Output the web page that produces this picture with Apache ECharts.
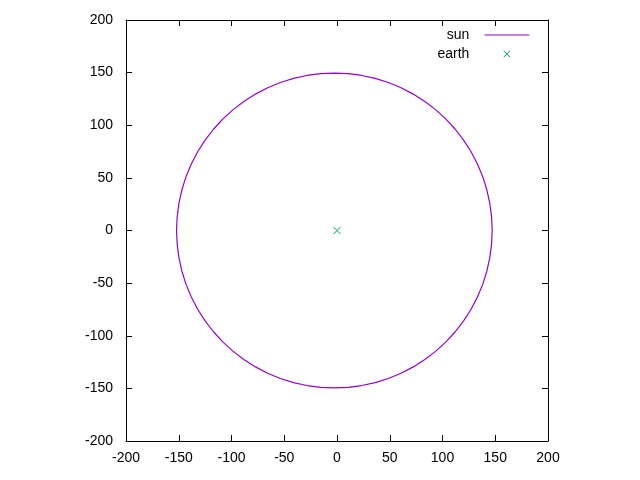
<!DOCTYPE html>
<html>
<head>
<meta charset="utf-8">
<script src="https://cdn.jsdelivr.net/npm/echarts@6/dist/echarts.min.js"></script>
<style>html,body{margin:0;padding:0;background:#fff}#c{width:640px;height:480px}</style>
</head>
<body>
<div id="c"></div>
<script>
// Data (sun path around the earth, roughly every 5 degrees)
const sunX = [147.1, 146.5, 144.8, 142.0, 138.1, 133.1, 127.1, 120.0, 112.1, 103.3, 93.7, 83.3, 72.3, 60.7, 48.7, 36.2, 23.5, 10.5,
  -2.5, -15.5, -28.5, -41.2, -53.7, -65.7, -77.3, -88.3, -98.7, -108.3, -117.1, -125.0, -132.1, -138.1, -143.1, -147.0, -149.8, -151.5,
  -152.1, -151.5, -149.8, -147.0, -143.1, -138.1, -132.1, -125.0, -117.1, -108.3, -98.7, -88.3, -77.3, -65.7, -53.7, -41.2, -28.5, -15.5,
  -2.5, 10.5, 23.5, 36.2, 48.7, 60.7, 72.3, 83.3, 93.7, 103.3, 112.1, 120.0, 127.1, 133.1, 138.1, 142.0, 144.8, 146.5, 147.1];
const sunY = [0, 13.0, 26.0, 38.7, 51.2, 63.2, 74.8, 85.8, 96.2, 105.8, 114.6, 122.5, 129.6, 135.6, 140.6, 144.5, 147.3, 149.0,
  149.6, 149.0, 147.3, 144.5, 140.6, 135.6, 129.6, 122.5, 114.6, 105.8, 96.2, 85.8, 74.8, 63.2, 51.2, 38.7, 26.0, 13.0,
  0, -13.0, -26.0, -38.7, -51.2, -63.2, -74.8, -85.8, -96.2, -105.8, -114.6, -122.5, -129.6, -135.6, -140.6, -144.5, -147.3, -149.0,
  -149.6, -149.0, -147.3, -144.5, -140.6, -135.6, -129.6, -122.5, -114.6, -105.8, -96.2, -85.8, -74.8, -63.2, -51.2, -38.7, -26.0, -13.0, 0];
const earthX = [0];
const earthY = [0];
const seriesNames = ['sun', 'earth'];
const axisMin = -200, axisMax = 200, axisStep = 50;

const FONT = 'Liberation Sans';
const SUN_COLOR = '#9400d3';
const EARTH_COLOR = '#009e73';
const chart = echarts.init(document.getElementById('c'), null, {renderer: 'canvas'});

function mainAxis(pos, showLabel) {
  return {
    type: 'value', position: pos, min: axisMin, max: axisMax, interval: axisStep,
    axisLine: {show: true, onZero: false, lineStyle: {color: '#000', width: 1}},
    axisTick: {show: true, inside: true, length: 6, lineStyle: {color: '#000', width: 1}},
    splitLine: {show: false},
    axisLabel: {show: showLabel, color: '#000', fontFamily: FONT, fontSize: 14,
      margin: (pos === 'left' ? 13 : 10)}
  };
}

const crossStyle = {color: 'rgba(0,0,0,0)', borderColor: EARTH_COLOR, borderWidth: 1};

const option = {
  animation: false,
  backgroundColor: '#fff',
  grid: {left: 126, right: 92, top: 20, bottom: 39, containLabel: false},
  xAxis: [mainAxis('bottom', true), mainAxis('top', false)],
  yAxis: [mainAxis('left', true), mainAxis('right', false)],
  legend: {
    orient: 'vertical', right: 105, top: 23, align: 'right',
    itemWidth: 45, itemHeight: 8, itemGap: 5,
    textStyle: {color: '#000', fontFamily: FONT, fontSize: 14, padding: [0, 10, 0, 0]},
    data: [
      {name: seriesNames[0], itemStyle: {opacity: 0}, lineStyle: {color: SUN_COLOR, width: 1.2}},
      {name: seriesNames[1], itemStyle: crossStyle, lineStyle: {opacity: 0, width: 0}}
    ]
  },
  series: [
    {
      name: seriesNames[0], type: 'line', showSymbol: false, symbol: 'none',
      data: sunX.map((x, i) => [x, sunY[i]]),
      lineStyle: {color: SUN_COLOR, width: 1.2},
      itemStyle: {color: SUN_COLOR}
    },
    {
      name: seriesNames[1], type: 'line', showSymbol: true,
      symbol: 'path://M0,0L10,10M0,10L10,0', symbolSize: 7,
      data: earthX.map((x, i) => [x, earthY[i]]),
      lineStyle: {width: 0, opacity: 0, color: EARTH_COLOR},
      itemStyle: crossStyle
    }
  ]
};
chart.setOption(option);
</script>
</body>
</html>
